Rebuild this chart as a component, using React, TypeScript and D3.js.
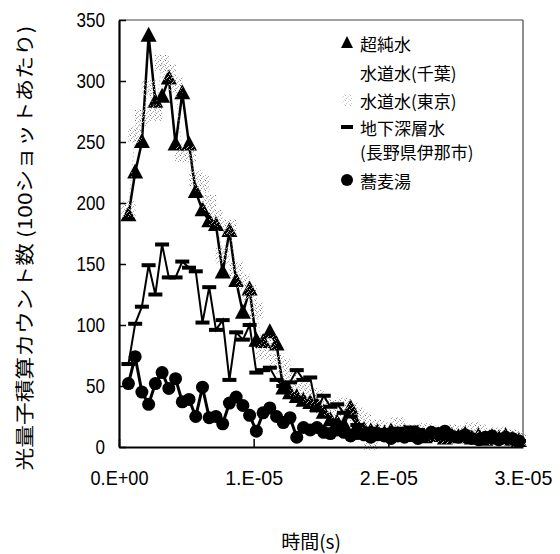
import React, { useEffect, useRef } from "react";
import * as d3 from "d3";

// sample times in microseconds
const times = [
  0.7, 1.2, 1.7, 2.2, 2.7, 3.2, 3.7, 4.2, 4.7, 5.2,
  5.7, 6.2, 6.7, 7.2, 7.7, 8.2, 8.7, 9.2, 9.7, 10.2,
  10.7, 11.2, 11.7, 12.2, 12.7, 13.2, 13.7, 14.2, 14.7, 15.2,
  15.7, 16.2, 16.7, 17.2, 17.7, 18.2, 18.7, 19.2, 19.7, 20.2,
  20.7, 21.2, 21.7, 22.2, 22.7, 23.2, 23.7, 24.2, 24.7, 25.2,
  25.7, 26.2, 26.7, 27.2, 27.7, 28.2, 28.7, 29.2, 29.7,
];

// 超純水
const ultraPure = [
  190, 225, 250, 337, 283, 287, 302, 248, 290, 248,
  209, 194, 185, 182, 143, 177, 136, 110, 129, 87,
  86, 94, 84, 48, 44, 41, 38, 36, 34, 28,
  22, 20, 18, 32, 17, 14, 13, 12, 11, 13,
  10, 12, 9, 11, 8, 10, 9, 7, 9, 8,
  10, 7, 9, 6, 8, 7, 9, 6, 5,
];

// 水道水(東京)
const tapTokyo = [
  195, 256, 270, 294, 274, 315, 307, 297, 240, 240,
  220, 216, 200, 188, 157, 180, 145, 135, 126, 112,
  78, 85, 70, 66, 55, 48, 50, 42, 40, 36,
  32, 30, 34, 30, 26, 22, 4, 16, 14, 12,
  18, 12, 10, 12, 13, 11, 10, 9, 12, 10,
  11, 14, 12, 9, 8, 10, 7, 8, 6,
];

// 地下深層水(長野県伊那市)
const deepWater = [
  68, 101, 115, 149, 125, 166, 139, 139, 152, 147,
  144, 102, 131, 96, 104, 55, 94, 88, 100, 61,
  63, 65, 55, 50, 53, 63, 55, 57, 30, 42,
  33, 35, 28, 25, 18, 14, 15, 12, 14, 11,
  15, 13, 16, 14, 10, 8, 9, 7, 8, 6,
  7, 5, 6, 5, 4, 6, 5, 4, 5,
];

// 蕎麦湯
const sobaYu = [
  52, 74, 45, 35, 52, 61, 48, 56, 37, 39,
  25, 49, 24, 25, 19, 36, 41, 34, 26, 13,
  28, 32, 25, 20, 24, 8, 16, 14, 16, 12,
  11, 14, 12, 9, 11, 10, 8, 10, 9, 7,
  9, 8, 10, 7, 9, 12, 11, 13, 9, 8,
  10, 7, 6, 8, 9, 6, 8, 7, 5,
];

const legendLabels = ["超純水", "水道水(千葉)", "水道水(東京)", "地下深層水", "(長野県伊那市)", "蕎麦湯"];
const yTicks = [0, 50, 100, 150, 200, 250, 300, 350];
const xTicks = [0, 1e-5, 2e-5, 3e-5];
const xTickLabels = ["0.E+00", "1.E-05", "2.E-05", "3.E-05"];

const W = 560;
const H = 554;
const FONT = "'Liberation Sans', Arial, sans-serif";
const JP = "'Noto Sans CJK JP', sans-serif";

const App = () => {
  const ref = useRef<SVGSVGElement>(null);

  useEffect(() => {
    const svg = d3.select(ref.current);
    svg.selectAll("*").remove();

    const x = d3.scaleLinear().domain([0, 3e-5]).range([119, 523]);
    const y = d3.scaleLinear().domain([0, 350]).range([447, 20]);
    const tx = (i: number) => x(times[i] * 1e-6);

    // stipple pattern for 東京 markers
    const defs = svg.append("defs");
    const pat = defs.append("pattern")
      .attr("id", "stip")
      .attr("width", 5)
      .attr("height", 5)
      .attr("patternUnits", "userSpaceOnUse");
    [[0, 0, "#777"], [3, 1, "#aaa"], [1, 3, "#999"], [4, 4, "#bbb"], [2, 2, "#c4c4c4"]].forEach(([px, py, c]) => {
      pat.append("rect").attr("x", px).attr("y", py).attr("width", 1).attr("height", 1).attr("fill", c as string);
    });

    // frame (top / right)
    svg.append("line").attr("x1", 119).attr("x2", 523).attr("y1", y(350)).attr("y2", y(350))
      .attr("stroke", "#444").attr("stroke-width", 1.2);
    svg.append("line").attr("x1", 523).attr("x2", 523).attr("y1", y(350)).attr("y2", y(0))
      .attr("stroke", "#444").attr("stroke-width", 1.2);

    const line = d3.line<number>()
      .x((d, i) => tx(i))
      .y((d) => y(d));

    const tri = "M0,-9L8,6L-8,6Z";

    // 超純水
    svg.append("path").datum(ultraPure).attr("d", line)
      .attr("fill", "none").attr("stroke", "#000").attr("stroke-width", 2.5);
    svg.selectAll(".tri").data(ultraPure).enter().append("path")
      .attr("class", "tri")
      .attr("d", tri)
      .attr("transform", (d, i) => `translate(${tx(i)},${y(d)})`)
      .attr("fill", "#000");

    // 水道水(東京)
    svg.append("path").datum(tapTokyo).attr("d", line)
      .attr("fill", "none").attr("stroke", "#aaa").attr("stroke-width", 1)
      .attr("stroke-dasharray", "1 3");
    svg.selectAll(".stp").data(tapTokyo).enter().append("rect")
      .attr("class", "stp")
      .attr("x", (d, i) => tx(i) - 7)
      .attr("y", (d) => y(d) - 8)
      .attr("width", 14)
      .attr("height", 16)
      .attr("fill", "url(#stip)");

    // 地下深層水
    svg.append("path").datum(deepWater).attr("d", line)
      .attr("fill", "none").attr("stroke", "#000").attr("stroke-width", 2);
    svg.selectAll(".bar").data(deepWater).enter().append("rect")
      .attr("class", "bar")
      .attr("x", (d, i) => tx(i) - 7)
      .attr("y", (d) => y(d) - 2)
      .attr("width", 14)
      .attr("height", 4)
      .attr("fill", "#000");

    // 蕎麦湯
    svg.append("path").datum(sobaYu).attr("d", line)
      .attr("fill", "none").attr("stroke", "#000").attr("stroke-width", 3);
    svg.selectAll(".dot").data(sobaYu).enter().append("circle")
      .attr("class", "dot")
      .attr("cx", (d, i) => tx(i))
      .attr("cy", (d) => y(d))
      .attr("r", 6.5)
      .attr("fill", "#000");

    // axes
    const yAxis = svg.append("g")
      .attr("transform", "translate(119,0)")
      .call(d3.axisLeft(y).tickValues(yTicks).tickSizeInner(-7).tickSizeOuter(0).tickPadding(14));
    yAxis.select(".domain").attr("stroke", "#000").attr("stroke-width", 2.2);
    yAxis.selectAll(".tick line").attr("stroke", "#000").attr("stroke-width", 1.5);
    yAxis.selectAll("text")
      .attr("font-family", FONT)
      .attr("font-size", 21)
      .attr("fill", "#000")
      .attr("textLength", (d: any) => String(d).length * 9.5)
      .attr("lengthAdjust", "spacingAndGlyphs");

    const xAxis = svg.append("g")
      .attr("transform", "translate(0,447)")
      .call(d3.axisBottom(x).tickValues(xTicks).tickSizeInner(-8).tickSizeOuter(0).tickPadding(23)
        .tickFormat((d, i) => xTickLabels[i]));
    xAxis.select(".domain").attr("stroke", "#000").attr("stroke-width", 2.2);
    xAxis.selectAll(".tick line").attr("stroke", "#000").attr("stroke-width", 1.5);
    xAxis.selectAll("text")
      .attr("font-family", FONT)
      .attr("font-size", 21)
      .attr("fill", "#000")
      .attr("textLength", 58)
      .attr("lengthAdjust", "spacingAndGlyphs");

    // axis titles
    svg.append("text")
      .attr("transform", "translate(23,248) rotate(-90)")
      .attr("text-anchor", "middle")
      .attr("dominant-baseline", "central")
      .attr("font-family", JP)
      .attr("font-size", 19)
      .attr("fill", "#000")
      .attr("textLength", 445)
      .attr("lengthAdjust", "spacingAndGlyphs")
      .text("光量子積算カウント数 (100ショットあたり)");

    svg.append("text")
      .attr("x", 311)
      .attr("y", 540)
      .attr("text-anchor", "middle")
      .attr("dominant-baseline", "central")
      .attr("font-family", JP)
      .attr("font-size", 19)
      .attr("fill", "#000")
      .text("時間(s)");

    // legend
    const rowY = [43, 72, 100, 127, 151, 180];
    const lg = svg.append("g").attr("font-family", JP).attr("font-size", 17).attr("fill", "#000");
    legendLabels.forEach((lab, i) => {
      lg.append("text")
        .attr("x", 360)
        .attr("y", rowY[i])
        .attr("dominant-baseline", "central")
        .text(lab);
    });
    lg.append("path").attr("d", "M0,-7L6,5L-6,5Z").attr("transform", `translate(347,${rowY[0]})`).attr("fill", "#000");
    lg.append("rect").attr("x", 342).attr("y", rowY[2] - 6).attr("width", 10).attr("height", 12).attr("fill", "url(#stip)").attr("opacity", 0.5);
    lg.append("rect").attr("x", 341).attr("y", rowY[3] - 2).attr("width", 12).attr("height", 4).attr("fill", "#000");
    lg.append("circle").attr("cx", 347).attr("cy", rowY[5]).attr("r", 6).attr("fill", "#000");
  }, []);

  return (
    <svg
      ref={ref}
      width={W}
      height={H}
      style={{ position: "absolute", left: 0, top: 0, background: "#fff" }}
    />
  );
};

export default App;
